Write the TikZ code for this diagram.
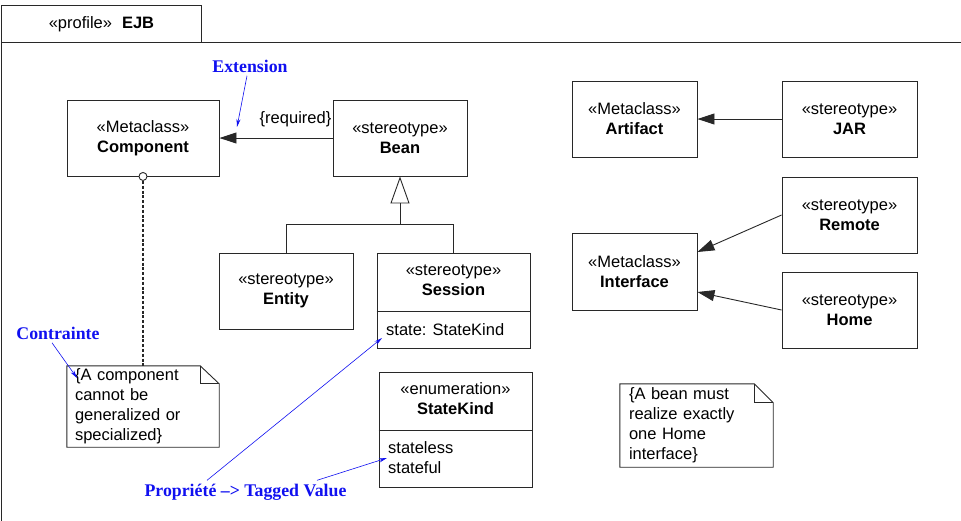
\documentclass[tikz,border=0pt]{standalone}
\usepackage{fontspec}
\setmainfont{Liberation Sans}
\newfontfamily\annotfont{Liberation Serif}
\usetikzlibrary{arrows.meta,calc}
\definecolor{annot}{RGB}{16,16,240}
\definecolor{ink}{RGB}{40,40,40}
\begin{document}
\begin{tikzpicture}[x=1pt,y=-1pt,
  every node/.style={font=\fontsize{16.5}{20}\selectfont},
  cls/.style={draw=ink, line width=0.9pt, align=center, inner sep=0pt},
  plain/.style={align=center, inner sep=0pt},
  ext/.style={draw=ink, line width=0.9pt, -{Triangle[length=17pt,width=11pt]}},
  lbl/.style={text=annot, font=\annotfont\bfseries\fontsize{17.8}{21}\selectfont},
  ann/.style={draw=annot, line width=0.6pt, -{Stealth[length=8pt,width=4pt]}},
  notebox/.style={align=left, inner ysep=0pt},
  edge/.style={draw=ink, line width=0.9pt}]
\useasboundingbox (0,0) rectangle (961,520);

% frame
\node[cls, minimum width=200pt, minimum height=37pt, anchor=north west] (tab) at (1,5) {«profile»\hspace{10pt}\textbf{EJB}};
\draw[edge] (1,42) -- (961,42) (1,42) -- (1,521);

% left classes
\node[cls, minimum width=152pt, minimum height=76pt] (component) at (143,138) {«Metaclass»\\\textbf{Component}};
\node[cls, minimum width=134pt, minimum height=76pt] (bean) at (400,138) {«stereotype»\\\textbf{Bean}};
\node[cls, minimum width=134pt, minimum height=76pt] (entity) at (286,291) {«stereotype»\\\textbf{Entity}};

\node[cls, minimum width=153pt, minimum height=95pt] (session) at (453.5,300.5) {};
\node[plain] (sessionhead) at (453.5,280) {«stereotype»\\\textbf{Session}};
\draw[edge] ([yshift=-10.5pt]session.west) -- ([yshift=-10.5pt]session.east);
\node[plain, anchor=base west] (sessionattr) at (386,335) {state: StateKind};

\node[cls, minimum width=153pt, minimum height=115pt] (statekind) at (455.5,429.5) {};
\node[plain] (statekindhead) at (455.5,399) {«enumeration»\\\textbf{StateKind}};
\draw[edge] ([yshift=-0.5pt]statekind.west) -- ([yshift=-0.5pt]statekind.east);
\node[plain, align=left, anchor=north west] (statekindlits) at (388,441.5) {stateless\\stateful};

% right classes
\node[cls, minimum width=125pt, minimum height=76pt] (artifact) at (634.5,119) {«Metaclass»\\\textbf{Artifact}};
\node[cls, minimum width=135pt, minimum height=76pt] (jar) at (849.5,119) {«stereotype»\\\textbf{JAR}};
\node[cls, minimum width=135pt, minimum height=76pt] (remote) at (849.5,215) {«stereotype»\\\textbf{Remote}};
\node[cls, minimum width=125pt, minimum height=77pt] (interface) at (634.5,271.5) {«Metaclass»\\\textbf{Interface}};
\node[cls, minimum width=135pt, minimum height=76pt] (home) at (849.5,310) {«stereotype»\\\textbf{Home}};

% notes
\node[notebox, inner xsep=8pt, text width=136pt, minimum width=152pt, minimum height=81pt] (note1) at (143,406.5) {\{A component\\cannot be\\generalized or\\specialized\}};
\draw[edge] (note1.north west) -- ([xshift=-19pt]note1.north east) -- ([yshift=-18pt]note1.north east) -- (note1.south east) -- (note1.south west) -- cycle;
\draw[edge] ([xshift=-19pt]note1.north east) -- ([xshift=-19pt,yshift=-18pt]note1.north east) -- ([yshift=-18pt]note1.north east);

\node[notebox, inner xsep=9pt, text width=135pt, minimum width=153pt, minimum height=83pt] (note2) at (696.5,425.5) {\{A bean must\\realize exactly\\one Home\\interface\}};
\draw[edge] (note2.north west) -- ([xshift=-19pt]note2.north east) -- ([yshift=-19pt]note2.north east) -- (note2.south east) -- (note2.south west) -- cycle;
\draw[edge] ([xshift=-19pt]note2.north east) -- ([xshift=-19pt,yshift=-19pt]note2.north east) -- ([yshift=-19pt]note2.north east);

% constraint attachment
\node[circle, draw=ink, fill=white, line width=0.9pt, minimum size=8pt, inner sep=0pt] (cpin) at (component.south) {};
\draw[edge, line width=1.4pt, dash pattern=on 3pt off 1.8pt] (cpin.south) -- (cpin.south |- note1.north);

% extensions
\draw[ext] (bean.west) -- (component.east);
\node[plain] (req) at (295.5,119) {\{required\}};
\draw[ext] (jar.west) -- (artifact.east);
\draw[ext] (remote.west) -- ([yshift=19.5pt]interface.east);
\draw[ext] (home.west) -- ([yshift=-20.5pt]interface.east);

% generalization
\coordinate (gj) at ($(bean.south)+(0,48)$);
\draw[edge] (entity.north) |- (gj) -| (session.north);
\draw[edge, -{Triangle[open, length=27pt, width=19pt]}] (gj) -- (bean.south);

% blue annotations
\node[lbl] (extl) at (250,66) {Extension};
\node[lbl] (contl) at (58,333) {Contrainte};
\node[lbl] (propl) at (245.5,492) {Propriété –> Tagged Value};
\coordinate (extTip) at (237,127);
\coordinate (contTip) at (77,378);
\coordinate (propTipA) at (382,338);
\coordinate (propTipB) at (387,458);
\draw[ann] ([xshift=-3pt]extl.south) -- (extTip);
\draw[ann] ([xshift=-6pt]contl.south) -- (contTip);
\draw[ann] ([xshift=-38.5pt]propl.north) -- (propTipA);
\draw[ann] ([xshift=71.5pt]propl.north) -- (propTipB);
\end{tikzpicture}
\end{document}
